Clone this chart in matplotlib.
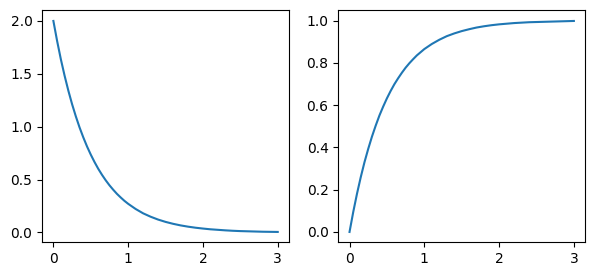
import matplotlib
matplotlib.use('Agg')
import matplotlib.pyplot as plt

# values, finer steps where the curves bend
x = [0.0, 0.05, 0.1, 0.15, 0.2, 0.25, 0.3, 0.35, 0.4, 0.45, 0.5, 0.55, 0.6, 0.65,
     0.7, 0.75, 0.8, 0.85, 0.9, 0.95,
     1.0, 1.1, 1.2, 1.3, 1.4, 1.5, 1.6, 1.7, 1.8, 1.9,
     2.0, 2.1, 2.2, 2.3, 2.4, 2.5, 2.6, 2.7, 2.8, 2.9, 3.0]

decay = [2.0, 1.810, 1.637, 1.482, 1.341, 1.213, 1.098, 0.993, 0.899, 0.813, 0.736,
         0.666, 0.602, 0.545, 0.493, 0.446, 0.404, 0.365, 0.331, 0.299,
         0.271, 0.222, 0.181, 0.149, 0.122, 0.100, 0.082, 0.067, 0.055, 0.045,
         0.037, 0.030, 0.025, 0.020, 0.016, 0.013, 0.011, 0.009, 0.007, 0.006, 0.005]

growth = [0.0, 0.095, 0.181, 0.259, 0.330, 0.393, 0.451, 0.503, 0.551, 0.593, 0.632,
          0.667, 0.699, 0.727, 0.753, 0.777, 0.798, 0.817, 0.835, 0.850,
          0.865, 0.889, 0.909, 0.926, 0.939, 0.950, 0.959, 0.967, 0.973, 0.978,
          0.982, 0.985, 0.988, 0.990, 0.992, 0.993, 0.994, 0.995, 0.996, 0.997, 0.998]

fig, (ax1, ax2) = plt.subplots(1, 2, figsize=(5.94, 2.74), dpi=100)
fig.subplots_adjust(left=0.071, right=0.985, top=0.962, bottom=0.115, wspace=0.2)

ax1.plot(x, decay)
ax2.plot(x, growth)

fig.savefig('out.png')
